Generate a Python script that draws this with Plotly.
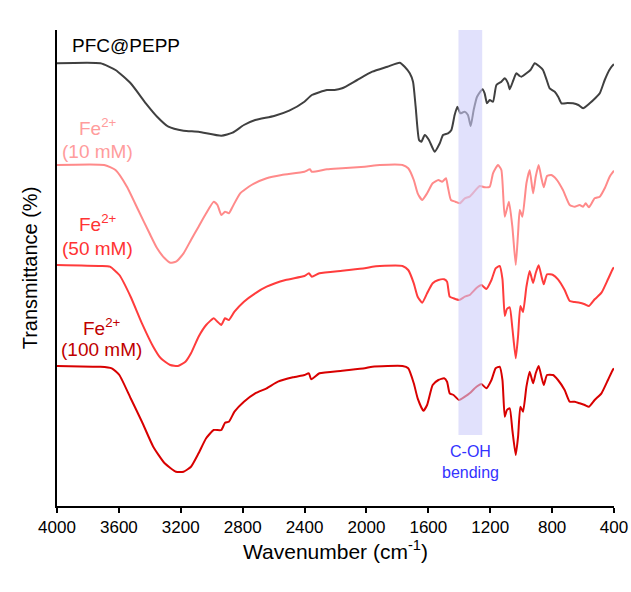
import plotly.graph_objects as go

# Wavenumber (cm-1) and stacked transmittance (a.u., offsets included)
wn_pfc = [4000, 3719, 3622, 3524, 3426, 3353, 3280, 3182, 3085, 2938,
          2865, 2792, 2719, 2597, 2499, 2401, 2353, 2255, 2206, 2157,
          2060, 1962, 1864, 1785, 1753, 1720, 1699, 1682, 1660, 1645,
          1623, 1596, 1559, 1526, 1505, 1473, 1451, 1430, 1412, 1393,
          1365, 1344, 1326, 1307, 1285, 1250, 1236, 1221, 1203, 1182,
          1160, 1128, 1106, 1085, 1074, 1050, 1031, 1010, 998, 966,
          940, 912, 885, 859, 835, 816, 783, 760, 740, 700,
          665, 630, 600, 557, 520, 492, 460, 430, 406, 400]
t_pfc = [448.7, 448.7, 442, 428.7, 408.7, 395.3, 385.3, 381.3, 380.3, 376.3,
         379.3, 387, 392, 396, 401.3, 410.3, 417, 422, 422, 423.7,
         432, 440.3, 445.3, 449.3, 445.3, 438.7, 430.3, 405.3, 372, 370.3,
         377, 372, 360.3, 368.7, 377, 378.7, 382, 397, 405.3, 398.7,
         400.3, 397, 386, 402, 415.3, 422.7, 418.7, 408.7, 412, 410.3,
         427, 430.3, 433.7, 428.7, 422.7, 432, 438.7, 436, 435.3, 438.7,
         442, 448.7, 446, 442, 432, 423.7, 420.3, 415, 408.7, 409,
         408.7, 407, 403.7, 408.7, 414, 418.7, 432, 442, 447, 447.5]

wn_10 = [4000, 3695, 3622, 3548, 3475, 3402, 3353, 3304, 3268, 3231,
         3182, 3134, 3085, 3036, 2987, 2963, 2938, 2914, 2889, 2865,
         2816, 2743, 2645, 2548, 2401, 2365, 2353, 2255, 2157, 2011,
         1913, 1767, 1730, 1694, 1669, 1640, 1608, 1572, 1535, 1511,
         1486, 1474, 1454, 1425, 1396, 1364, 1333, 1268, 1236, 1203,
         1182, 1150, 1128, 1106, 1079, 1057, 1035, 1020, 1009, 992,
         966, 945, 923, 906, 887, 869, 854, 833, 805, 772,
         730, 686, 654, 622, 600, 583, 562, 525, 492, 460,
         428, 400]
t_10 = [347, 347, 342, 325.3, 302, 278.7, 263.7, 253.7, 249.3, 250.3,
        258.7, 272, 285.3, 298.7, 310.3, 307, 297, 300.3, 298.7, 305.3,
        318.7, 327, 333.7, 337, 340.3, 342.7, 340.3, 342.7, 343.7, 345.3,
        347, 347, 343.7, 332, 318.7, 312, 318.7, 328.7, 332, 330.3,
        333.7, 325.3, 312, 310.3, 308.7, 313.7, 315.3, 326, 324.7, 325.3,
        338.7, 347, 342, 295.3, 310.3, 285.3, 247, 278.7, 302, 295.3,
        328.7, 342, 318.7, 335.3, 347, 333.7, 324.7, 336, 337, 332.7,
        322, 307, 305.3, 307, 305.3, 308.7, 304.7, 313.7, 315.3, 323.7,
        335.3, 341.3]

wn_50 = [4000, 3719, 3658, 3597, 3524, 3451, 3378, 3329, 3268, 3219,
         3170, 3134, 3085, 3036, 2987, 2963, 2938, 2914, 2889, 2853,
         2792, 2719, 2645, 2523, 2401, 2372, 2353, 2304, 2157, 2011,
         1962, 1913, 1767, 1730, 1694, 1669, 1640, 1608, 1572, 1535,
         1498, 1479, 1462, 1437, 1401, 1364, 1333, 1289, 1257, 1225,
         1192, 1165, 1139, 1121, 1106, 1092, 1074, 1057, 1035, 1020,
         1005, 988, 966, 945, 923, 906, 887, 869, 854, 833,
         794, 762, 719, 686, 654, 622, 589, 562, 525, 481,
         439, 406, 400]
t_50 = [247, 246, 245.3, 237, 215.3, 188.7, 165.3, 153.7, 147, 146,
        150.3, 158.7, 175.3, 187, 193.7, 190.3, 187, 193.7, 192, 200.3,
        210.3, 218.7, 225.3, 232, 236, 238.7, 235.3, 238.7, 241.3, 243.7,
        245.3, 246, 246, 242, 228.7, 215.3, 209.3, 218.7, 228.7, 232,
        232.7, 230.3, 215.3, 213.7, 212, 215.3, 217, 224, 227, 223,
        232, 243.7, 246, 233, 196, 203, 204.7, 184, 153.7, 176,
        206, 200, 225.3, 241, 229, 239, 246.7, 236, 227.7, 237.7,
        237, 232.7, 222, 211, 210, 209.3, 207.7, 206, 212.7, 219.3,
        232.7, 243.7, 244.5]

wn_100 = [4000, 3768, 3719, 3646, 3597, 3524, 3451, 3378, 3304, 3231,
          3182, 3134, 3085, 3036, 2987, 2938, 2914, 2889, 2853, 2792,
          2719, 2645, 2572, 2475, 2401, 2372, 2357, 2304, 2157, 2011,
          1962, 1767, 1730, 1694, 1669, 1632, 1608, 1572, 1535, 1498,
          1479, 1462, 1437, 1401, 1364, 1333, 1289, 1257, 1225, 1192,
          1165, 1139, 1121, 1106, 1092, 1074, 1057, 1035, 1020, 1005,
          988, 966, 945, 923, 906, 887, 869, 854, 833, 794,
          762, 719, 686, 654, 622, 589, 562, 525, 481, 439,
          406, 400]
t_100 = [146, 145.3, 145.3, 143.7, 137, 113.7, 90.3, 65.3, 48.7, 40.3,
         40.3, 45.3, 58.7, 73.7, 82, 82, 89.3, 90.3, 100.3, 110.3,
         118.7, 123.7, 130.3, 134.7, 137, 138.7, 132.7, 138.7, 141.3, 143.7,
         145.3, 146, 143.7, 128.7, 113.7, 101.3, 107, 127, 132, 133.7,
         130.3, 118.7, 117, 112, 115.3, 118.7, 125.3, 128, 123.7, 132,
         143.7, 145.3, 132, 95.3, 102, 103.7, 82, 57, 75.3, 105.3,
         100.3, 125.3, 140.3, 128.7, 138.7, 146, 135.3, 127, 137, 137,
         132, 122, 110.3, 110.3, 108.7, 107, 105.3, 112, 118.7, 132,
         142.7, 143.5]

x_ticks = [4000, 3600, 3200, 2800, 2400, 2000, 1600, 1200, 800, 400]
band = [1405, 1252]

FONT = "Liberation Sans, Arial, sans-serif"

series = [
    (wn_pfc, t_pfc, "#404040", "PFC@PEPP"),
    (wn_10, t_10, "#ff8a8a", "Fe2+ (10 mM)"),
    (wn_50, t_50, "#ff3c3c", "Fe2+ (50 mM)"),
    (wn_100, t_100, "#d80000", "Fe2+ (100 mM)"),
]

fig = go.Figure()
for x, y, c, n in series:
    fig.add_trace(go.Scatter(x=x, y=y, mode="lines", name=n,
                             line=dict(color=c, width=2, shape="spline", smoothing=0.5),
                             showlegend=False))

fig.add_shape(type="rect", xref="x", yref="y", x0=band[0], x1=band[1], y0=77, y1=482,
              fillcolor="rgba(205,205,250,0.6)", line=dict(width=0), layer="above")

ann = [
    ("PFC@PEPP", 3918, 467, "#000000", "left", 19),
    ("Fe<sup>2+</sup>", 3737, 385, "#ff9c9c", "center", 19),
    ("(10 mM)", 3737, 361, "#ff9c9c", "center", 19),
    ("Fe<sup>2+</sup>", 3737, 289, "#ff3333", "center", 19),
    ("(50 mM)", 3737, 264, "#ff3333", "center", 19),
    ("Fe<sup>2+</sup>", 3711, 185, "#c00000", "center", 19),
    ("(100 mM)", 3711, 163, "#c00000", "center", 19),
    ("C-OH", 1330, 61, "#3333ff", "center", 16),
    ("bending", 1330, 40, "#3333ff", "center", 16),
]
for t, x, y, c, xa, s in ann:
    fig.add_annotation(text=t, x=x, y=y, xref="x", yref="y", showarrow=False,
                       xanchor=xa, yanchor="middle", font=dict(color=c, size=s, family=FONT))

fig.update_layout(
    width=631, height=592,
    margin=dict(l=57, r=17, t=30, b=86),
    paper_bgcolor="white", plot_bgcolor="white",
    font=dict(family=FONT, color="#000000"),
    xaxis=dict(range=[4000, 400], tickvals=x_ticks, ticktext=[str(v) for v in x_ticks],
               automargin=False,
               showline=True, linecolor="#000000", linewidth=2, mirror=False,
               ticks="outside", ticklen=5, tickwidth=1.5, tickcolor="#000000",
               showgrid=False, zeroline=False, tickfont=dict(size=17, family=FONT),
               title=dict(text="Wavenumber (cm<sup>-1</sup>)", font=dict(size=21, family=FONT), standoff=8)),
    yaxis=dict(range=[6, 482], showline=True, linecolor="#000000", linewidth=2,
               showticklabels=False, ticks="", showgrid=False, zeroline=False,
               title=dict(text="Transmittance (%)", font=dict(size=20, family=FONT), standoff=12)),
)

fig.write_html("out.html")
